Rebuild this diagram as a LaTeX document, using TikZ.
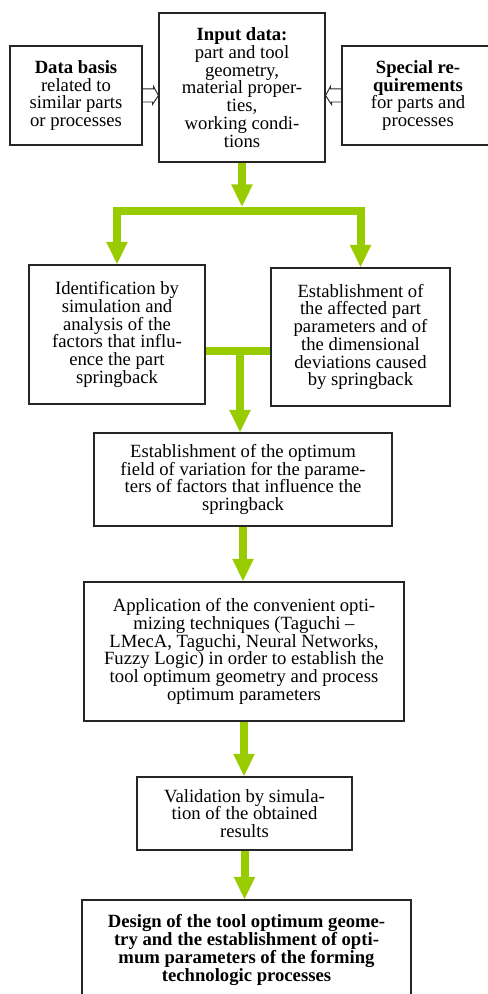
\documentclass[tikz,border=0pt]{standalone}
\usepackage{fontspec}
\setmainfont{Liberation Serif}
\usetikzlibrary{arrows.meta}
\newlength\unitpx
\setlength\unitpx{0.75pt}
\definecolor{leafgreen}{HTML}{99CC00}

\begin{document}
\begin{tikzpicture}[x=0.75pt, y=-0.75pt,
  box/.style={draw=black!85, line width=0.8pt, align=center, inner sep=0pt,
    font=\fontsize{14}{13.3}\selectfont},
  greenbar/.style={draw=leafgreen, line width=6pt},
  greenarrow/.style={greenbar, -{Triangle[width=15pt, length=17pt]}},
  hollowtip/.style={draw=black!85, line width=0.7pt, line join=miter}]

\useasboundingbox (0,0) rectangle (488,994);
\clip (0,0) rectangle (488,994);

% input blocks
\node [box, minimum width=132\unitpx, minimum height=99\unitpx] (basis) at (76,95.5)
  {\textbf{Data basis}\\ related to\\ similar parts\\ or processes};
\node [box, minimum width=166\unitpx, minimum height=149\unitpx] (input) at (242,87.5)
  {\textbf{Input data:}\\ part and tool\\ geometry,\\ material proper-\\ ties,\\ working condi-\\ tions};
\node [box, minimum width=152\unitpx, minimum height=99\unitpx] (special) at (418,95.5)
  {\textbf{Special re-}\\ \textbf{quirements}\\ for parts and\\ processes};

% analysis blocks
\node [box, minimum width=176\unitpx, minimum height=139\unitpx] (ident) at (117,334.5)
  {Identification by\\ simulation and\\ analysis of the\\ factors that influ-\\ ence the part\\ springback};
\node [box, minimum width=179\unitpx, minimum height=138\unitpx] (estab) at (360.5,337)
  {Establishment of\\ the affected part\\ parameters and of\\ the dimensional\\ deviations caused\\ by springback};

% main chain
\node [box, minimum width=298\unitpx, minimum height=93\unitpx] (field) at (243,479.5)
  {Establishment of the optimum\\ field of variation for the parame-\\ ters of factors that influence the\\ springback};
\node [box, minimum width=320\unitpx, minimum height=139\unitpx] (appl) at (244,651.5)
  {Application of the convenient opti-\\ mizing techniques (Taguchi --\\ LMecA, Taguchi, Neural Networks,\\ Fuzzy Logic) in order to establish the\\ tool optimum geometry and process\\ optimum parameters};
\node [box, minimum width=215\unitpx, minimum height=73\unitpx] (valid) at (244.5,813.5)
  {Validation by simula-\\ tion of the obtained\\ results};
\node [box, minimum width=329\unitpx, minimum height=100\unitpx, font=\fontsize{14}{13.3}\selectfont\bfseries] (design) at (246.5,950)
  {Design of the tool optimum geome-\\ try and the establishment of opti-\\ mum parameters of the forming\\ technologic processes};

\coordinate (split) at (242,211);
\coordinate (merge) at (240,351);

% connectors
\draw [hollowtip] ([yshift=4.9pt]basis.east) -- ++(11,0) -- ++(0,-2.5)
  -- (basis.east -| input.west) -- ++(-6,9) -- ++(0,-2.5) -- ([yshift=-4.9pt]basis.east);
\draw [hollowtip] ([yshift=4.9pt]special.west) -- ++(-11,0) -- ++(0,-2.5)
  -- (special.west -| input.east) -- ++(6,9) -- ++(0,-2.5) -- ([yshift=-4.9pt]special.west);

\draw [greenarrow, shorten >=3pt] (input.south) -- (split);
\draw [greenarrow] (split) -| (ident);
\draw [greenarrow] (split) -| (estab);

\draw [greenbar] (ident.east |- merge) -- (estab.west |- merge);
\draw [greenarrow] (merge) -- (merge |- field.north);

\draw [greenarrow] (field.south) -- (field.south |- appl.north);
\draw [greenarrow] (appl.south) -- (appl.south |- valid.north);
\draw [greenarrow] (valid.south) -- (valid.south |- design.north);

\end{tikzpicture}
\end{document}
